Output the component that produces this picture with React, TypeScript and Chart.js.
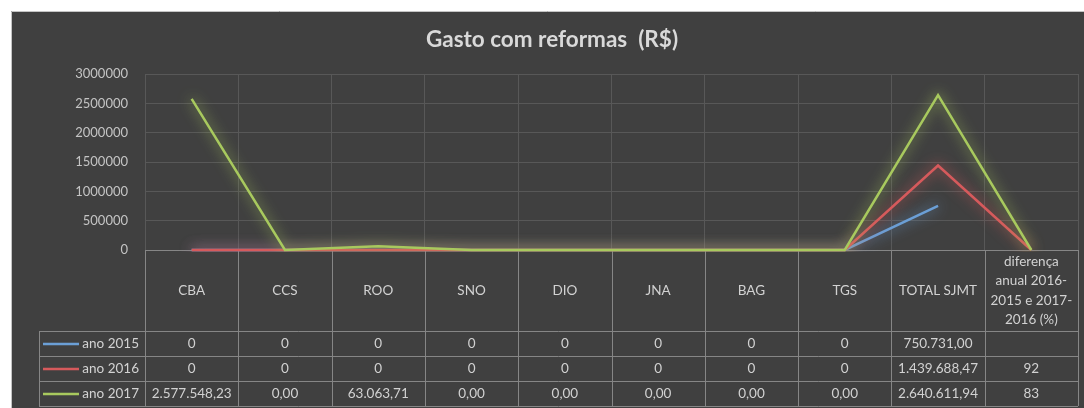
import React, { useEffect, useRef } from "react";
import { Chart, registerables } from "chart.js";

Chart.register(...registerables);

const titleText = "Gasto com reformas  (R$)";

const categories: (string | string[])[] = [
  "CBA",
  "CCS",
  "ROO",
  "SNO",
  "DIO",
  "JNA",
  "BAG",
  "TGS",
  "TOTAL SJMT",
  ["diferença", "anual 2016-", "2015 e 2017-", "2016 (%)"],
];

const seriesNames = ["ano 2015", "ano 2016", "ano 2017"];
const seriesColors = ["#6b9fd6", "#d65a5c", "#a8c95e"];

const values2015: (number | null)[] = [0, 0, 0, 0, 0, 0, 0, 0, 750731.0, null];
const values2016: (number | null)[] = [0, 0, 0, 0, 0, 0, 0, 0, 1439688.47, 92];
const values2017: (number | null)[] = [2577548.23, 0, 63063.71, 0, 0, 0, 0, 0, 2640611.94, 83];

const table2015 = ["0", "0", "0", "0", "0", "0", "0", "0", "750.731,00", ""];
const table2016 = ["0", "0", "0", "0", "0", "0", "0", "0", "1.439.688,47", "92"];
const table2017 = ["2.577.548,23", "0,00", "63.063,71", "0,00", "0,00", "0,00", "0,00", "0,00", "2.640.611,94", "83"];

const yMin = 0;
const yMax = 3000000;
const yStep = 500000;

const FONT = "Lato, 'Open Sans', sans-serif";

const panelPlugin = {
  id: "panel",
  beforeDraw(chart: any) {
    const ctx = chart.ctx;
    const w = chart.width;
    const h = chart.height;
    ctx.save();
    ctx.fillStyle = "#ffffff";
    ctx.fillRect(0, 0, w, h);
    ctx.fillStyle = "#404040";
    ctx.fillRect(11, 11, w - 11, h - 11);
    ctx.strokeStyle = "#c4c4c4";
    ctx.lineWidth = 1;
    ctx.beginPath();
    ctx.moveTo(11.5, h);
    ctx.lineTo(11.5, 11.5);
    ctx.lineTo(w, 11.5);
    ctx.stroke();
    ctx.fillStyle = "#d9d9d9";
    ctx.font = `bold 22.5px ${FONT}`;
    ctx.textAlign = "center";
    ctx.textBaseline = "middle";
    ctx.fillText(titleText, 552, 40);
    ctx.restore();
  },
};

const glowPlugin = {
  id: "glow",
  beforeDatasetDraw(chart: any, args: any) {
    const ctx = chart.ctx;
    ctx.save();
    const ds = chart.data.datasets[args.index];
    ctx.shadowColor = ds.borderColor;
    ctx.shadowBlur = 13;
  },
  afterDatasetDraw(chart: any) {
    chart.ctx.restore();
  },
};

const tablePlugin = {
  id: "dataTable",
  beforeDatasetsDraw(chart: any) {
    const { ctx, chartArea } = chart;
    const xs = chart.scales.x;
    const n = categories.length;
    const step = xs.getPixelForValue(1) - xs.getPixelForValue(0);
    const left = chartArea.left;
    const right = chartArea.right;
    const top = chartArea.bottom;
    const headBottom = top + 81;
    const rowH = 25;
    const legendLeft = 39;
    const rows = [table2015, table2016, table2017];

    ctx.save();
    ctx.strokeStyle = "#868686";
    ctx.lineWidth = 1;
    const hl = (y: number, x0: number, x1: number) => {
      const yy = Math.round(y) + 0.5;
      ctx.beginPath();
      ctx.moveTo(x0, yy);
      ctx.lineTo(x1, yy);
      ctx.stroke();
    };
    const vl = (x: number, y0: number, y1: number) => {
      const xx = Math.round(x) + 0.5;
      ctx.beginPath();
      ctx.moveTo(xx, y0);
      ctx.lineTo(xx, y1);
      ctx.stroke();
    };
    hl(top, left, right);
    for (let r = 0; r <= rows.length; r++) hl(headBottom + r * rowH, legendLeft, right);
    const bottom = headBottom + rows.length * rowH;
    for (let i = 0; i <= n; i++) {
      const x = i < n ? xs.getPixelForValue(i) - step / 2 : xs.getPixelForValue(n - 1) + step / 2;
      vl(x, top, bottom);
    }
    vl(legendLeft, headBottom, bottom);

    ctx.fillStyle = "#d2d2d2";
    ctx.font = `13.5px ${FONT}`;
    ctx.textAlign = "center";
    ctx.textBaseline = "middle";
    const lh = 19.5;
    categories.forEach((c, i) => {
      const lines = Array.isArray(c) ? c : [c];
      const cx = xs.getPixelForValue(i);
      const cy = (top + headBottom) / 2;
      lines.forEach((l, k) => {
        ctx.fillText(l, cx, cy + (k - (lines.length - 1) / 2) * lh);
      });
    });

    rows.forEach((row, r) => {
      const cy = headBottom + r * rowH + rowH / 2 + 0.5;
      ctx.strokeStyle = seriesColors[r];
      ctx.lineWidth = 2.5;
      ctx.beginPath();
      ctx.moveTo(43, cy);
      ctx.lineTo(79, cy);
      ctx.stroke();
      ctx.fillStyle = "#d2d2d2";
      ctx.textAlign = "right";
      ctx.fillText(seriesNames[r], 139, cy);
      ctx.textAlign = "center";
      row.forEach((t, i) => {
        if (t) ctx.fillText(t, xs.getPixelForValue(i), cy);
      });
    });
    ctx.restore();
  },
};

export default function App() {
  const canvasRef = useRef<HTMLCanvasElement | null>(null);

  useEffect(() => {
    const canvas = canvasRef.current;
    if (!canvas) return;
    const allValues = [values2015, values2016, values2017];
    const chart = new Chart(canvas, {
      type: "line",
      data: {
        labels: categories,
        datasets: allValues.map((v, i) => ({
          label: seriesNames[i],
          data: v,
          borderColor: seriesColors[i],
          backgroundColor: seriesColors[i],
          borderWidth: 2.5,
          pointRadius: 0,
          pointHoverRadius: 0,
          tension: 0,
          fill: false,
          spanGaps: false,
          clip: { left: 5, top: 20, right: 5, bottom: 2 },
          order: 2 - i,
        })),
      },
      options: {
        responsive: false,
        animation: false,
        devicePixelRatio: 1,
        layout: { padding: { top: 74, bottom: 158, right: 6, left: 0 } },
        plugins: {
          legend: { display: false },
          title: { display: false },
          tooltip: { enabled: false },
        },
        scales: {
          x: {
            type: "category",
            offset: true,
            grid: { offset: true, color: "#585858", drawTicks: false, lineWidth: 1 },
            border: { display: false },
            ticks: { display: false },
            afterFit: (s: any) => {
              s.height = 0;
            },
          },
          y: {
            min: yMin,
            max: yMax,
            grid: { color: "#585858", drawTicks: false, lineWidth: 1 },
            border: { display: false },
            ticks: {
              stepSize: yStep,
              padding: 17,
              color: "#c4c4c4",
              font: { family: FONT, size: 13 },
              callback: (v: any) => String(v),
            },
            afterFit: (s: any) => {
              s.width = 145;
            },
          },
        },
      },
      plugins: [panelPlugin, glowPlugin, tablePlugin],
    } as any);
    return () => chart.destroy();
  }, []);

  return (
    <div style={{ position: "absolute", left: 0, top: 0, width: 1084, height: 408 }}>
      <canvas ref={canvasRef} width={1084} height={408} style={{ display: "block" }} />
    </div>
  );
}
